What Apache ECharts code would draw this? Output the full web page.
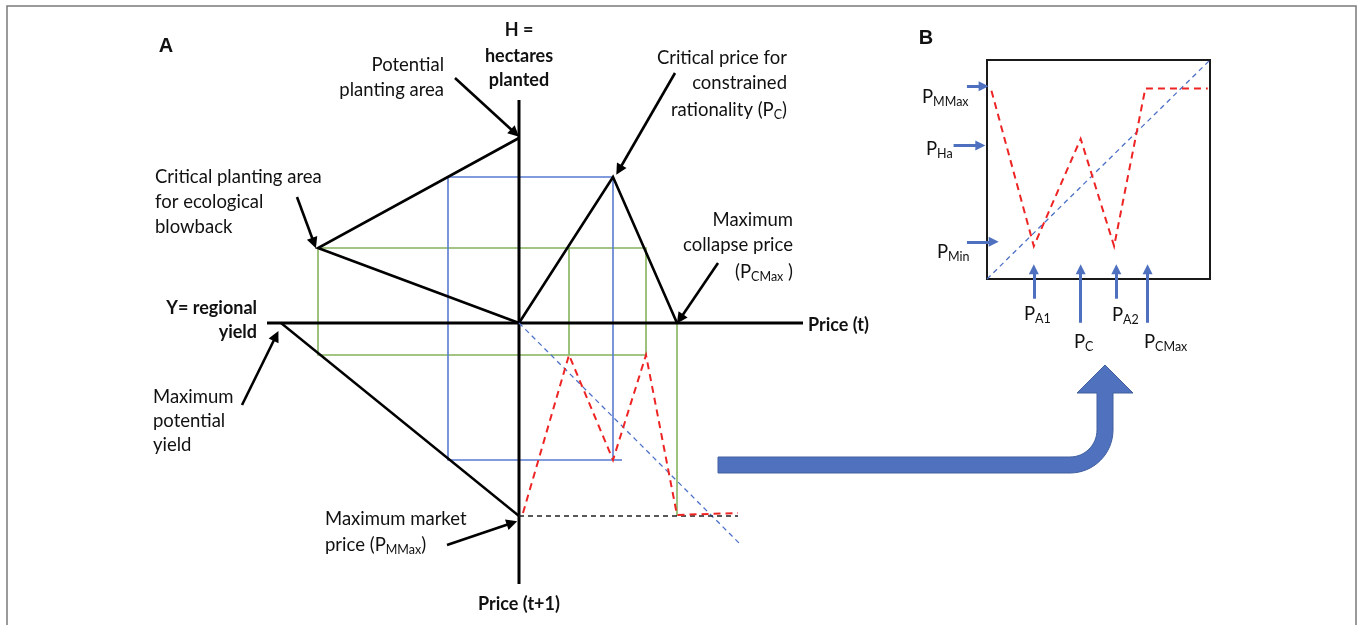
<!DOCTYPE html>
<html>
<head>
<meta charset="utf-8">
<script src="https://cdn.jsdelivr.net/npm/echarts@6/dist/echarts.min.js"></script>
<style>
  html, body { margin: 0; padding: 0; background: #fff; }
  #chart { width: 1363px; height: 625px; }
</style>
</head>
<body>
<div id="chart"></div>
<script>
// ---------- Panel A: four-quadrant diagram, origin at the axis crossing ----------
// x: Price (t) to the right, regional yield to the left; y: hectares up, Price (t+1) down
const hectaresAxis = [[0, 223], [0, -261]];
const priceAxis = [[-252, 0], [284, 0]];
const plantingArea = [[0, 185], [-201, 75], [0, 0]];          // potential -> critical -> origin
const yieldToPrice = [[-238, 0], [0, -193]];                   // max potential yield -> max market price
const priceResponse = [[0, 0], [94, 146], [158, 0]];           // origin -> P_C -> P_CMax
const blueTrace = [[-71, 146], [94, 146], [94, -137], [-71, -137], [-71, 146]];
const blueTail = [[94, -137], [103, -137]];
const greenTrace = [[-201, 75], [127, 75], [127, -32], [-201, -32], [-201, 75]];
const greenInner = [[50, 75], [50, -32]];
const greenDrop = [[158, 0], [158, -193]];
const diagonalA = [[0, 0], [220, -220]];
const maxMarketPrice = [[0, -193], [219, -193]];
const cobweb = [[4, -190], [50, -32], [94, -137], [127, -32], [158, -192], [160, -190], [219, -190]];

// annotation arrows: [tail, head]
const arrowsA = [
  [[-64, 245], [-4, 190]],
  [[-222, 126], [-205, 80]],
  [[156, 250], [100, 153]],
  [[199, 60], [161, 4]],
  [[-277, -82], [-243, -13]],
  [[-72, -222], [-7, -200]]
];

// ---------- Panel B: price path inside the unit box ----------
const diagonalB = [[0, 0], [100, 100]];
const pricePathB = [[2, 86], [21, 15], [42, 64], [57, 15], [71, 87], [99, 87]];
const levelArrowsB = [
  [[-9, 88], [-1.5, 88]],     // P_MMax
  [[-15, 61], [-3, 61]],      // P_Ha
  [[-9, 17], [3, 17]]         // P_Min
];
const priceArrowsB = [
  [[21, -9], [21, 4.5]],      // P_A1
  [[42, -20], [42, 4.5]],     // P_C
  [[58, -9], [58, 4.5]],      // P_A2
  [[72, -20], [72, 4.5]]      // P_CMax
];

const BLACK = '#000';
const BLUE = '#5a7bd2';
const GREEN = '#84b35c';
const RED = '#ee2424';
const DASH_BLUE = '#4d70c6';
const ARROW_BLUE = '#4e70bf';
const BODY_FONT = 'Lato, "Open Sans", sans-serif';
const HEAD_FONT = '"Liberation Sans", Arial, sans-serif';

function path(data, color, width, dash, axis, z) {
  return {
    type: 'line', xAxisIndex: axis, yAxisIndex: axis, data: data,
    symbol: 'none', clip: false, silent: true, z: z,
    lineStyle: { color: color, width: width, type: dash || 'solid', cap: 'butt', join: 'miter' }
  };
}
function arrows(list, color, width, size, axis) {
  return {
    type: 'lines', coordinateSystem: 'cartesian2d', xAxisIndex: axis, yAxisIndex: axis,
    clip: false, silent: true, z: 6,
    symbol: ['none', 'triangle'], symbolSize: size,
    lineStyle: { color: color, width: width, opacity: 1, curveness: 0 },
    itemStyle: { color: color },
    data: list.map(function (c) { return { coords: c }; })
  };
}

// text helper with subscript support
const sub = { fontSize: 12.5, lineHeight: 10, verticalAlign: 'bottom', fontFamily: BODY_FONT, fill: '#111' };
function label(text, x, y, align, bold, size, family) {
  return {
    type: 'text', x: x, y: y, silent: true, z: 10,
    style: {
      text: text, fill: '#111', align: align, verticalAlign: 'middle',
      fontSize: size || 18.5, fontWeight: bold ? 'bold' : 'normal',
      fontFamily: family || BODY_FONT, lineHeight: 22,
      rich: { s: sub }
    }
  };
}

// the curved connector arrow from panel A to panel B
function bentArrow() {
  const cx = 1070, cy = 430, rIn = 27, rOut = 43;
  const pts = [[718, 457], [cx, cy + rIn]];
  for (let i = 1; i <= 16; i++) {
    const a = Math.PI / 2 * (1 - i / 16);
    pts.push([cx + rIn * Math.cos(a), cy + rIn * Math.sin(a)]);
  }
  pts.push([1097, 393], [1077, 393], [1105, 365], [1133, 393], [1113, 393], [cx + rOut, cy]);
  for (let i = 1; i <= 16; i++) {
    const a = Math.PI / 2 * (i / 16);
    pts.push([cx + rOut * Math.cos(a), cy + rOut * Math.sin(a)]);
  }
  pts.push([718, 473]);
  return {
    type: 'polygon', silent: true, z: 5,
    shape: { points: pts },
    style: { fill: '#4f71be', stroke: '#42609f', lineWidth: 1 }
  };
}

const texts = [
  label('A', 166, 46, 'center', true, 20, HEAD_FONT),
  label('H =', 519, 30, 'center', true, 18),
  label('hectares', 519, 56, 'center', true, 18),
  label('planted', 519, 80, 'center', true, 18),
  label('Potential', 444, 65, 'right'),
  label('planting area', 444, 90, 'right'),
  label('Critical planting area', 155, 177, 'left'),
  label('for ecological', 155, 202, 'left'),
  label('blowback', 155, 227, 'left'),
  label('Critical price for', 787, 58, 'right'),
  label('constrained', 787, 83, 'right'),
  label('rationality (P{s|C})', 787, 110, 'right'),
  label('Maximum', 793, 220, 'right'),
  label('collapse price', 793, 245, 'right'),
  label('(P{s|CMax} )', 793, 272, 'right'),
  label('Y= regional', 257, 308, 'right', true, 18),
  label('yield', 257, 332, 'right', true, 18),
  label('Price (t)', 808, 325, 'left', true, 18),
  label('Maximum', 153, 397, 'left'),
  label('potential', 153, 421, 'left'),
  label('yield', 153, 445, 'left'),
  label('Maximum market', 325, 519, 'left'),
  label('price (P{s|MMax})', 325, 545, 'left'),
  label('Price (t+1)', 519, 604, 'center', true, 18),
  label('B', 926, 38, 'center', true, 20, HEAD_FONT),
  label('P{s|MMax}', 922, 97, 'left'),
  label('P{s|Ha}', 926, 149, 'left'),
  label('P{s|Min}', 937, 252, 'left'),
  label('P{s|A1}', 1024, 314, 'left'),
  label('P{s|C}', 1074, 342, 'left'),
  label('P{s|A2}', 1112, 315, 'left'),
  label('P{s|CMax}', 1144, 342, 'left')
];

const chart = echarts.init(document.getElementById('chart'), null, { renderer: 'canvas' });
const hidden = { show: false };
chart.setOption({
  animation: false,
  backgroundColor: '#fff',
  grid: [
    { left: 119, top: 13, width: 900, height: 600, show: false },
    { left: 987, top: 60, width: 223, height: 219, show: true, borderColor: '#1a1a1a', borderWidth: 2, backgroundColor: 'transparent' }
  ],
  xAxis: [
    { type: 'value', gridIndex: 0, min: -400, max: 500, axisLine: hidden, axisTick: hidden, axisLabel: hidden, splitLine: hidden },
    { type: 'value', gridIndex: 1, min: 0, max: 100, axisLine: hidden, axisTick: hidden, axisLabel: hidden, splitLine: hidden }
  ],
  yAxis: [
    { type: 'value', gridIndex: 0, min: -290, max: 310, axisLine: hidden, axisTick: hidden, axisLabel: hidden, splitLine: hidden },
    { type: 'value', gridIndex: 1, min: 0, max: 100, axisLine: hidden, axisTick: hidden, axisLabel: hidden, splitLine: hidden }
  ],
  series: [
    path(greenTrace, GREEN, 1.6, null, 0, 1),
    path(greenInner, GREEN, 1.6, null, 0, 1),
    path(greenDrop, GREEN, 1.6, null, 0, 1),
    path(blueTrace, BLUE, 1.6, null, 0, 2),
    path(blueTail, BLUE, 1.6, null, 0, 2),
    path(hectaresAxis, BLACK, 3, null, 0, 3),
    path(priceAxis, BLACK, 3, null, 0, 3),
    path(plantingArea, BLACK, 2.6, null, 0, 3),
    path(yieldToPrice, BLACK, 2.4, null, 0, 3),
    path(priceResponse, BLACK, 2.6, null, 0, 3),
    path(diagonalA, DASH_BLUE, 1.3, [5, 4], 0, 4),
    path(maxMarketPrice, '#222', 1.4, [5, 4], 0, 4),
    path(cobweb, RED, 2, [7, 5], 0, 5),
    arrows(arrowsA, BLACK, 2.6, 11, 0),
    path(diagonalB, DASH_BLUE, 1.3, [5, 4], 1, 4),
    path(pricePathB, RED, 2, [7, 5], 1, 5),
    arrows(levelArrowsB, ARROW_BLUE, 3, 10, 1),
    arrows(priceArrowsB, ARROW_BLUE, 3, 10, 1)
  ],
  graphic: {
    elements: [
      { type: 'rect', silent: true, z: 0, shape: { x: 7, y: 6, width: 1349, height: 640 },
        style: { fill: 'none', stroke: '#7a7a7a', lineWidth: 1.5 } },
      bentArrow()
    ].concat(texts)
  }
});
</script>
</body>
</html>
